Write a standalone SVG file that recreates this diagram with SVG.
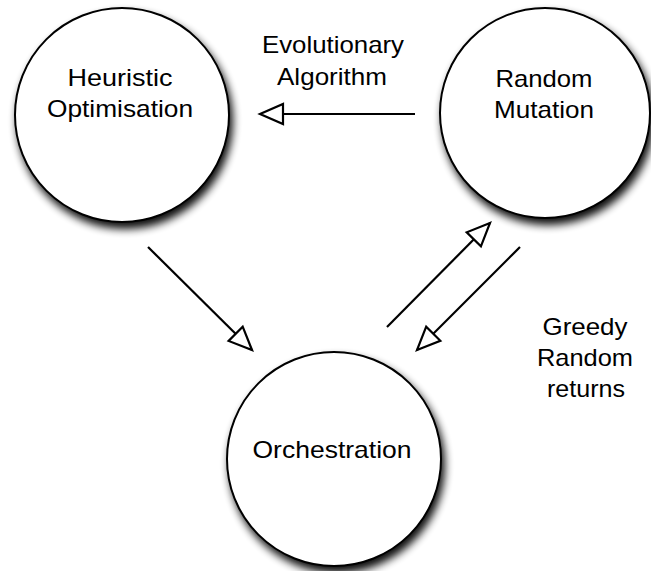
<svg xmlns="http://www.w3.org/2000/svg" width="651" height="571" viewBox="0 0 651 571">
<style>
.node{fill:#fff;stroke:#000;stroke-width:2;filter:url(#sh)}
.lbl{font-family:"Liberation Sans",Arial,sans-serif;font-size:24px;fill:#000;text-anchor:middle}
.edge{stroke:#000;stroke-width:2.2;fill:none;marker-end:url(#arr)}
</style>
<defs>
<filter id="sh" x="-20%" y="-20%" width="145%" height="145%">
<feGaussianBlur in="SourceAlpha" stdDeviation="4.5"/>
<feOffset dx="3" dy="6" result="b"/>
<feComponentTransfer><feFuncA type="linear" slope="0.95"/></feComponentTransfer>
<feMerge><feMergeNode/><feMergeNode in="SourceGraphic"/></feMerge>
</filter>
<marker id="arr" markerUnits="userSpaceOnUse" markerWidth="32" markerHeight="28" viewBox="-4 -4 32 28" refX="23" refY="10" orient="auto">
<path d="M23,10 L0,0 L0,20 Z" fill="#fff" stroke="#000" stroke-width="2.2" stroke-linejoin="miter"/>
</marker>
</defs>
<rect width="651" height="571" fill="#fff"/>
<g id="edges">
<line class="edge" x1="415" y1="114" x2="260" y2="114"/>
<line class="edge" x1="148" y1="247" x2="252" y2="350"/>
<line class="edge" x1="387" y1="327" x2="490" y2="223"/>
<line class="edge" x1="520" y1="247" x2="417" y2="350"/>
</g>
<g id="heuristic">
<circle class="node" cx="122" cy="115" r="107"/>
<text class="lbl" x="120" y="86" textLength="105" lengthAdjust="spacingAndGlyphs">Heuristic</text>
<text class="lbl" x="120" y="117" textLength="146" lengthAdjust="spacingAndGlyphs">Optimisation</text>
</g>
<g id="random">
<circle class="node" cx="545" cy="113" r="105"/>
<text class="lbl" x="544" y="87" textLength="97" lengthAdjust="spacingAndGlyphs">Random</text>
<text class="lbl" x="544" y="118" textLength="100" lengthAdjust="spacingAndGlyphs">Mutation</text>
</g>
<g id="orchestration">
<circle class="node" cx="334" cy="459" r="107"/>
<text class="lbl" x="332" y="458" textLength="159" lengthAdjust="spacingAndGlyphs">Orchestration</text>
</g>
<g id="edge-labels">
<text class="lbl" x="333" y="53" textLength="142" lengthAdjust="spacingAndGlyphs">Evolutionary</text>
<text class="lbl" x="332" y="85" textLength="110" lengthAdjust="spacingAndGlyphs">Algorithm</text>
<text class="lbl" x="585" y="335" textLength="85" lengthAdjust="spacingAndGlyphs">Greedy</text>
<text class="lbl" x="585" y="366" textLength="96" lengthAdjust="spacingAndGlyphs">Random</text>
<text class="lbl" x="586" y="397" textLength="78" lengthAdjust="spacingAndGlyphs">returns</text>
</g>
</svg>
